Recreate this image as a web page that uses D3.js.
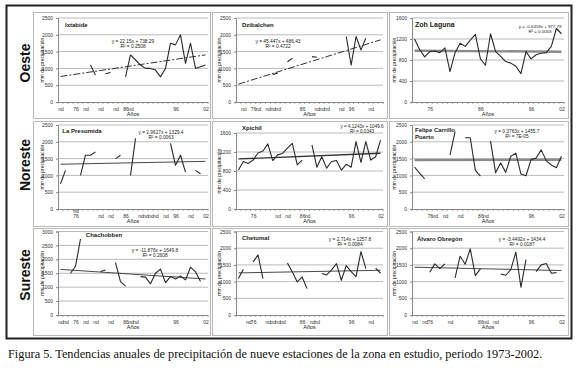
<!DOCTYPE html>
<html lang="es">
<head>
<meta charset="UTF-8">
<script src="https://cdnjs.cloudflare.com/ajax/libs/d3/7.8.5/d3.min.js"></script>
<style>
body { margin: 0; background: #fff; }
svg text { font-family: "Liberation Sans", Arial, sans-serif; fill: #222; }
.caption { font-family: "Liberation Serif", "Times New Roman", serif !important; }
</style>
</head>
<body>
<svg id="chart" width="580" height="370"></svg>
<script>
// categories: 1973-2002
const years = [1973,1974,1975,1976,1977,1978,1979,1980,1981,1982,1983,1984,1985,1986,1987,
               1988,1989,1990,1991,1992,1993,1994,1995,1996,1997,1998,1999,2000,2001,2002];

const ticks2500 = [0,500,1000,1500,2000,2500];
const ticks1600 = [0,400,800,1200,1600];
const ticks3000 = [0,500,1000,1500,2000,2500,3000];

// annual rainfall (mm), null = no data
const ixtabide   = [null,null,null,null,null,null,1100,800,null,840,880,null,null,750,1400,1250,1100,1000,1000,950,750,1000,1750,1700,2000,1150,1750,1000,1050,1100];
const dzibalchen = [null,null,null,null,null,null,null,820,860,null,1200,1300,null,null,null,1350,1330,null,null,null,null,null,1950,1100,1950,1550,1900,null,null,null];
const zohLaguna  = [1200,1000,860,960,970,940,1030,580,940,1120,1060,1180,1290,820,700,1300,960,870,770,740,680,540,960,820,900,930,940,1060,1400,1300];
const presumida  = [750,1150,null,null,1000,1600,1600,1700,null,null,null,1500,1600,null,1000,2100,null,null,null,null,null,null,1950,1300,1600,1100,null,1150,1050,null];
const xpichil    = [820,1000,960,1030,1180,1220,1370,1020,1140,1170,1280,1380,930,1030,null,1350,880,1100,860,1000,1020,820,940,880,1420,980,1420,1030,1100,1450];
const felipe     = [1250,1070,900,null,null,null,null,1600,2300,null,2120,2120,1150,980,null,2020,1080,1370,1090,1570,1660,1040,990,1470,1520,1760,1440,1310,1230,1570];
const chachobben = [null,null,1500,1750,2730,null,null,null,1560,1620,null,1880,1200,1040,null,null,1380,1360,1120,1500,1650,1160,1380,1290,1400,1260,1720,1550,1200,null];
const chetumal   = [1090,1370,null,1590,1800,1090,null,null,null,null,1560,1290,990,1140,790,null,null,1240,1200,1350,1540,1040,1480,1300,1150,1900,1390,null,1400,1250];
const obregon    = [null,null,null,1280,1530,1390,1530,null,1110,1760,1520,1980,1180,1380,null,null,null,1230,1190,1360,1880,830,1660,null,1300,1500,1540,1250,1270,null];

// category labels as printed
const ixtabideTicks   = ["nd","","","76","","nd","","","nd","","","nd","","86","nd","","","","","","","","","96","","","","","","02"];
const dzibalchenTicks = ["","nd","","76","nd","","nd","nd","nd","","","","","86","","","nd","nd","nd","","","nd","","96","","","","nd","",""];
const zohTicks        = ["","","","76","","","","","","","","","","86","","","","","","","","","","96","","","","","","02"];
const presumidaTicks  = ["","","","nd\n76","","","","","nd","","nd","","","86","","","nd","nd","nd","nd","","nd","","96","","","nd","","","02"];
const xpichilTicks    = ["","","","76","","","","","nd","","nd","","","86","nd","","","","","","","","","96","","","","","","02"];
const felipeTicks     = ["","","","76","nd","","nd","","","nd","","","","86","nd","","","","","","","","","96","","","","","","02"];
const chachobbenTicks = ["nd","nd","","76","","nd","","nd","","","nd","","","86","nd","nd","","","","","","","","96","","","","","","02"];
const chetumalTicks   = ["","","nd","76","","","nd","nd","nd","nd","","","","86","","nd","nd","","","","","","","96","","","","nd","",""];
const obregonTicks    = ["nd","","nd","76","","","","nd","","","","","","86","nd","","nd","","","","","","","96","","","","","","02"];

// trend equations [slope, intercept] and printed labels
const ixtabideTrend = [22.15, 738.29],    ixtabideEq = ["y = 22.15x + 738.29", "R² = 0.2508"];
const dzibalTrend   = [45.447, 486.43],   dzibalEq   = ["y = 45.447x + 486.43", "R² = 0.4722"];
const zohTrend      = [-0.6418, 977.79],  zohEq      = ["y = -0.6418x + 977.79", "R² = 0.0003"];
const presTrend     = [2.9617, 1329.4],   presEq     = ["y = 2.9617x + 1329.4", "R² = 0.0063"];
const xpiTrend      = [4.1243, 1049.6],   xpiEq      = ["y = 4.1243x + 1049.6", "R² = 0.0343"];
const felTrend      = [0.3763, 1455.7],   felEq      = ["y = 0.3763x + 1455.7", "R² = 7E-05"];
const chaTrend      = [-11.876, 1649.8],  chaEq      = ["y = -11.876x + 1649.8", "R² = 0.2608"];
const cheTrend      = [2.714, 1257.8],    cheEq      = ["y = 2.714x + 1257.8", "R² = 0.0084"];
const obrTrend      = [-3.4492, 1434.4],  obrEq      = ["y = -3.4492x + 1434.4", "R² = 0.0187"];

const regions = ["Oeste", "Noreste", "Sureste"];
const caption = "Figura 5. Tendencias anuales de precipitación de nueve estaciones de la zona en estudio, periodo 1973-2002.";

// layout
const cols = [
  {x: 33,  w: 177, ax: 58,  right: 208, yt: 44},
  {x: 212, w: 175, ax: 236, right: 383, yt: 221},
  {x: 389, w: 179, ax: 412, right: 564, yt: 396}
];
const rows = [
  {y: 12,  h: 106, top: 18,    bottom: 102, label: 63},
  {y: 121, h: 105, top: 125,   bottom: 209, label: 165},
  {y: 228, h: 107, top: 231.5, bottom: 315, label: 275}
];

const panels = [
  {title: ["Ixtabide"], vals: ixtabide, ticks: ixtabideTicks, trend: ixtabideTrend, eq: ixtabideEq, yMax: 2500, yTicks: ticks2500,
   row: 0, col: 0, tx: 65, ty: 27, ta: "start", tf: 6, ex: 133, ey: 43, ef: 4.8, tStyle: "dash"},
  {title: ["Dzibalchen"], vals: dzibalchen, ticks: dzibalchenTicks, trend: dzibalTrend, eq: dzibalEq, yMax: 2500, yTicks: ticks2500,
   row: 0, col: 1, tx: 242, ty: 27, ta: "start", tf: 6, ex: 278, ey: 43, ef: 4.8, tStyle: "dash"},
  {title: ["Zoh Laguna"], vals: zohLaguna, ticks: zohTicks, trend: zohTrend, eq: zohEq, yMax: 1600, yTicks: ticks1600,
   row: 0, col: 2, tx: 415, ty: 26.5, ta: "start", tf: 7, ex: 540, ey: 28, ef: 4.4, tStyle: "gray"},
  {title: ["La Presumida"], vals: presumida, ticks: presumidaTicks, trend: presTrend, eq: presEq, yMax: 2500, yTicks: ticks2500,
   row: 1, col: 0, tx: 82, ty: 133, ta: "middle", tf: 6, ex: 161, ey: 134, ef: 4.8, tStyle: "thin"},
  {title: ["Xpichil"], vals: xpichil, ticks: xpichilTicks, trend: xpiTrend, eq: xpiEq, yMax: 1600, yTicks: ticks1600, top: 133,
   row: 1, col: 1, tx: 242, ty: 130, ta: "start", tf: 6, ex: 362, ey: 128, ef: 4.6, tStyle: "mid"},
  {title: ["Felipe Carrillo", "Puerto"], vals: felipe, ticks: felipeTicks, trend: felTrend, eq: felEq, yMax: 2500, yTicks: ticks2500,
   row: 1, col: 2, tx: 415, ty: 132, ta: "start", tf: 6, ex: 517, ey: 133, ef: 4.8, tStyle: "gray"},
  {title: ["Chachobben"], vals: chachobben, ticks: chachobbenTicks, trend: chaTrend, eq: chaEq, yMax: 3000, yTicks: ticks3000,
   row: 2, col: 0, tx: 104, ty: 237, ta: "middle", tf: 6, ex: 155, ey: 252, ef: 4.8, tStyle: "thin"},
  {title: ["Chetumal"], vals: chetumal, ticks: chetumalTicks, trend: cheTrend, eq: cheEq, yMax: 2500, yTicks: ticks2500,
   row: 2, col: 1, tx: 242, ty: 240, ta: "start", tf: 6, ex: 350, ey: 241, ef: 4.8, tStyle: "thin"},
  {title: ["Álvaro Obregón"], vals: obregon, ticks: obregonTicks, trend: obrTrend, eq: obrEq, yMax: 2500, yTicks: ticks2500,
   row: 2, col: 2, tx: 417, ty: 241, ta: "start", tf: 6, ex: 522, ey: 241, ef: 4.8, tStyle: "thin"}
];

const trendStyles = {
  dash: {stroke: "#333", width: 1, dash: "7,2,2,2"},
  gray: {stroke: "#8a8a8a", width: 2.4, dash: null},
  thin: {stroke: "#333", width: 0.9, dash: null},
  mid:  {stroke: "#333", width: 1.3, dash: null}
};

const svg = d3.select("#chart");

// outer frame
svg.append("rect")
    .attr("x", 6.5).attr("y", 5.5)
    .attr("width", 565).attr("height", 333)
    .attr("fill", "none").attr("stroke", "#222").attr("stroke-width", 2);

// region labels
rows.forEach((r, i) => {
    svg.append("text")
        .attr("transform", `translate(29.5,${r.label}) rotate(-90)`)
        .attr("text-anchor", "middle")
        .attr("font-size", 14).attr("font-weight", "bold")
        .style("fill", "#111")
        .text(regions[i]);
});

panels.forEach(p => {
    const c = cols[p.col], r = rows[p.row];
    const g = svg.append("g");

    g.append("rect")
        .attr("x", c.x + .5).attr("y", r.y + .5)
        .attr("width", c.w).attr("height", r.h)
        .attr("fill", "#fff").attr("stroke", "#b8b8b8");

    const x = d3.scalePoint().domain(years).range([c.ax, c.right]).padding(0.5);
    const y = d3.scaleLinear().domain([0, p.yMax]).range([r.bottom, p.top || r.top]);

    // gridlines
    g.selectAll(".grid").data(p.yTicks.slice(1)).join("line")
        .attr("x1", c.ax).attr("x2", c.right)
        .attr("y1", d => y(d)).attr("y2", d => y(d))
        .attr("stroke", "#a8a8a8").attr("stroke-width", 0.8);

    // y axis
    const ya = g.append("g")
        .attr("transform", `translate(${c.ax},0)`)
        .call(d3.axisLeft(y).tickValues(p.yTicks).tickSize(2).tickPadding(3).tickFormat(d3.format("d")));
    ya.select(".domain").attr("stroke", "#888");
    ya.selectAll(".tick line").attr("stroke", "#888");
    ya.selectAll("text").attr("font-size", 5).style("fill", "#333");

    // x axis
    const labelled = years.filter((d, i) => p.ticks[i]);
    const xa = g.append("g")
        .attr("transform", `translate(0,${r.bottom})`)
        .call(d3.axisBottom(x).tickValues(labelled).tickSize(0).tickPadding(5)
              .tickFormat(d => p.ticks[years.indexOf(d)]));
    xa.select(".domain").attr("stroke", "#888");
    xa.selectAll("text").attr("font-size", 5).style("fill", "#333")
        .each(function(d) {
            const parts = p.ticks[years.indexOf(d)].split("\n");
            if (parts.length > 1) {
                const t = d3.select(this).text("");
                parts.forEach((s, k) => {
                    t.append("tspan").attr("x", 0)
                        .attr("dy", k === 0 ? `${0.71 - (parts.length - 1) * 1.0}em` : "1em")
                        .text(s);
                });
                t.attr("dy", null);
            }
        });
    // category boundary marks
    const step = x.step();
    g.selectAll(".cat").data(d3.range(years.length + 1)).join("line")
        .attr("x1", k => c.ax + k * step).attr("x2", k => c.ax + k * step)
        .attr("y1", r.bottom).attr("y2", r.bottom + 2)
        .attr("stroke", "#888").attr("stroke-width", 0.7);

    // axis titles
    g.append("text")
        .attr("x", (c.ax + c.right) / 2).attr("y", r.bottom + 14)
        .attr("text-anchor", "middle").attr("font-size", 5.5)
        .text("Años");
    g.append("text")
        .attr("transform", `translate(${c.yt},${(r.bottom + (p.top || r.top)) / 2}) rotate(-90)`)
        .attr("text-anchor", "middle").attr("font-size", 5)
        .text("mm de precipitación");

    // trend line
    const ts = trendStyles[p.tStyle];
    const tEnds = [0, years.length - 1].map(i => ({yr: years[i], v: p.trend[0] * (i + 1) + p.trend[1]}));
    g.append("path")
        .datum(tEnds)
        .attr("fill", "none")
        .attr("stroke", ts.stroke).attr("stroke-width", ts.width)
        .attr("stroke-dasharray", ts.dash)
        .attr("d", d3.line().x(d => x(d.yr)).y(d => y(d.v)));

    // data line
    const pts = years.map((yr, i) => ({yr: yr, v: p.vals[i]}));
    g.append("path")
        .datum(pts)
        .attr("fill", "none")
        .attr("stroke", "#2a2a2a").attr("stroke-width", 1.1)
        .attr("stroke-linejoin", "round")
        .attr("d", d3.line().defined(d => d.v != null).x(d => x(d.yr)).y(d => y(d.v)));

    // station name
    const tt = g.append("text")
        .attr("x", p.tx).attr("y", p.ty)
        .attr("text-anchor", p.ta)
        .attr("font-size", p.tf).attr("font-weight", "bold");
    p.title.forEach((s, k) => tt.append("tspan").attr("x", p.tx).attr("dy", k === 0 ? 0 : "1.15em").text(s));

    // equation
    g.selectAll(".eq").data(p.eq).join("text")
        .attr("x", p.ex).attr("y", (d, k) => p.ey + k * 5.2)
        .attr("text-anchor", "middle").attr("font-size", p.ef)
        .text(d => d);
});

svg.append("text")
    .attr("class", "caption")
    .attr("x", 8).attr("y", 358)
    .attr("font-size", 12.3)
    .style("fill", "#111")
    .text(caption);
</script>
</body>
</html>
